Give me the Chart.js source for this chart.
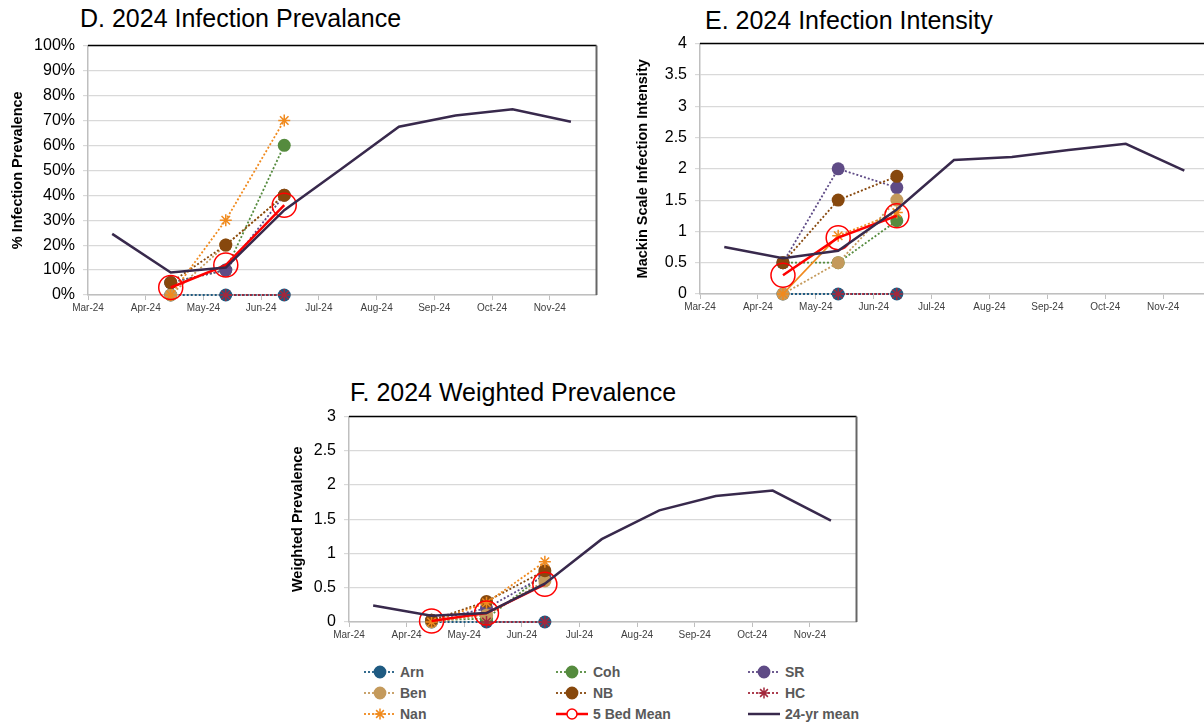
<!DOCTYPE html>
<html>
<head>
<meta charset="utf-8">
<script src="https://cdn.jsdelivr.net/npm/chart.js@4.4.1/dist/chart.umd.min.js"></script>
<style>
  body { margin: 0; width: 1204px; height: 723px; overflow: hidden; background: #fff; position: relative;
         font-family: "Liberation Sans", Arial, sans-serif; }
  canvas { position: absolute; }
  .title { position: absolute; font-size: 25px; color: #000; white-space: nowrap; line-height: 30px; }
  .lg-text { position: absolute; font-weight: bold; font-size: 14px; color: #595959; line-height: 16px; white-space: nowrap; }
</style>
</head>
<body>
<div class="title" style="left:80px;top:3px">D. 2024 Infection Prevalance</div>
<div class="title" style="left:705px;top:5px">E. 2024 Infection Intensity</div>
<div class="title" style="left:350px;top:377px">F. 2024 Weighted Prevalence</div>
<canvas id="chartD" width="610" height="294" style="left:0px;top:28px"></canvas>
<canvas id="chartE" width="620" height="295" style="left:620px;top:26px"></canvas>
<canvas id="chartF" width="590" height="250" style="left:280px;top:399px"></canvas>
<div id="legend"></div>

<script>
// month axis, Mar-24 = 0
const monthLabels = ['Mar-24', 'Apr-24', 'May-24', 'Jun-24', 'Jul-24', 'Aug-24', 'Sep-24', 'Oct-24', 'Nov-24'];
const sampleDates = ['2024-04-14', '2024-05-13', '2024-06-13'];
const meanDates = ['2024-03-14', '2024-04-14', '2024-05-13', '2024-06-13', '2024-07-13',
                   '2024-08-13', '2024-09-12', '2024-10-12', '2024-11-12'];
const bedNames = ['Arn', 'Coh', 'SR', 'Ben', 'NB', 'HC', 'Nan'];

// D. infection prevalence (%)
const prevArn = [0, 0, 0];
const prevCoh = [5, 10, 60];
const prevSR = [5, 10, 40];
const prevBen = [0, 20, 40];
const prevNB = [5, 20, 40];
const prevHC = [null, 0, 0];
const prevNan = [0, 30, 70];
const prevBedMean = [3, 12, 36];
const prevLongMean = [24.5, 9, 11, 34, 50.5, 67.5, 72, 74.5, 69.5];
const prevTicks = [0, 10, 20, 30, 40, 50, 60, 70, 80, 90, 100];

// E. infection intensity (Mackin scale)
const intArn = [0, 0, 0];
const intCoh = [0.5, 0.5, 1.17];
const intSR = [0.5, 2, 1.7];
const intBen = [0, 0.5, 1.5];
const intNB = [0.5, 1.5, 1.88];
const intHC = [null, 0, 0];
const intNan = [0, 0.93, 1.3];
const intBedMean = [0.3, 0.9, 1.25];
const intLongMean = [0.75, 0.57, 0.69, 1.35, 2.14, 2.19, 2.3, 2.4, 1.97];
const intTicks = [0, 0.5, 1, 1.5, 2, 2.5, 3, 3.5, 4];

// F. weighted prevalence
const wpArn = [0, 0, 0];
const wpCoh = [0.025, 0.05, 0.7];
const wpSR = [0.025, 0.2, 0.68];
const wpBen = [0, 0.1, 0.6];
const wpNB = [0.025, 0.3, 0.75];
const wpHC = [null, 0, 0];
const wpNan = [0, 0.28, 0.88];
const wpBedMean = [0.015, 0.13, 0.55];
const wpLongMean = [0.24, 0.09, 0.13, 0.56, 1.21, 1.63, 1.84, 1.92, 1.48];
const wpTicks = [0, 0.5, 1, 1.5, 2, 2.5, 3];

// styles
const bedColors = ['#1F5B82', '#558B3E', '#5F4B86', '#C49A5C', '#87480D', '#A3283C', '#F08A1E'];
const bedPoints = ['circle', 'circle', 'circle', 'circle', 'circle', 'star', 'star'];
const bedMeanColor = '#FF0000';
const longMeanColor = '#38294C';

Chart.defaults.font.family = '"Liberation Sans", Arial, sans-serif';

function monthPos(d) {
  const [y, m, day] = d.split('-').map(Number);
  const dim = new Date(y, m, 0).getDate();
  return (y - 2024) * 12 + (m - 3) + (day - 1) / dim;
}

function pts(dates, vals) {
  return dates.map((d, i) => ({ x: monthPos(d), y: vals[i] }));
}

const plotBorder = {
  id: 'plotBorder',
  afterDatasetsDraw(chart) {
    const { ctx, chartArea: a } = chart;
    ctx.save();
    ctx.strokeStyle = '#000';
    ctx.lineWidth = 1.5;
    ctx.beginPath();
    ctx.moveTo(a.left, a.top);
    ctx.lineTo(a.right, a.top);
    ctx.stroke();
    ctx.strokeStyle = '#666';
    ctx.lineWidth = 2;
    ctx.beginPath();
    ctx.moveTo(a.right, a.top);
    ctx.lineTo(a.right, a.bottom);
    ctx.stroke();
    ctx.restore();
  }
};

function makeChart(id, o) {
  const datasets = [];
  datasets.push({
    label: '24-yr mean', data: pts(meanDates, o.longMean), order: 0,
    borderColor: longMeanColor, borderWidth: 2.5, pointRadius: 0, tension: 0
  });
  datasets.push({
    label: '5 Bed Mean', data: pts(sampleDates, o.bedMean), order: 1,
    borderColor: bedMeanColor, borderWidth: 2.5, pointStyle: 'circle', pointRadius: 12,
    pointBorderWidth: 1.5, pointBackgroundColor: 'rgba(0,0,0,0)', pointBorderColor: bedMeanColor
  });
  o.beds.forEach((vals, i) => {
    const ds = {
      label: bedNames[i], data: pts(sampleDates, vals), order: 10 - i,
      borderColor: bedColors[i], borderWidth: 1.8, borderDash: [2, 2],
      pointStyle: bedPoints[i], pointRadius: bedPoints[i] === 'star' ? 6 : 6.5,
      pointBackgroundColor: bedColors[i], pointBorderColor: bedColors[i],
      pointBorderWidth: bedPoints[i] === 'star' ? 1.5 : 0
    };
    if (o.solidFirst && o.solidFirst === bedNames[i]) {
      ds.segment = { borderDash: c => c.p0DataIndex === 0 ? [] : [2, 2] };
    }
    datasets.push(ds);
  });
  datasets.forEach(d => { d.clip = false; d.fill = false; });

  return new Chart(document.getElementById(id), {
    type: 'line',
    data: { datasets },
    plugins: [plotBorder],
    options: {
      responsive: false,
      animation: false,
      layout: { padding: { top: 14, right: o.padRight, left: 0, bottom: 0 } },
      plugins: { legend: { display: false }, tooltip: { enabled: false } },
      scales: {
        x: {
          type: 'linear', min: 0, max: 8.81,
          afterBuildTicks: s => { s.ticks = monthLabels.map((_, i) => ({ value: i })); },
          afterFit: s => { s.height = 27; },
          grid: { drawOnChartArea: false, drawTicks: true, tickLength: 5, color: '#BFBFBF' },
          border: { color: '#BFBFBF', width: 1.5 },
          ticks: { font: { size: 10 }, color: '#404040', maxRotation: 0, autoSkip: false, padding: 2,
                   callback: v => monthLabels[v] }
        },
        y: {
          type: 'linear', min: 0, max: o.ticks[o.ticks.length - 1],
          afterBuildTicks: s => { s.ticks = o.ticks.map(v => ({ value: v })); },
          afterFit: s => { s.width = o.axisWidth; },
          grid: { color: '#D9D9D9', lineWidth: 1.2, tickLength: 5 },
          border: { color: '#BFBFBF', width: 1.5 },
          ticks: { font: { size: 16 }, color: '#000', padding: 8, callback: o.fmt },
          title: { display: true, text: o.yTitle, color: '#000',
                   font: { size: 14.5, weight: 'bold' }, padding: { top: o.titlePad, bottom: 0 } }
        }
      }
    }
  });
}

makeChart('chartD', {
  beds: [prevArn, prevCoh, prevSR, prevBen, prevNB, prevHC, prevNan],
  bedMean: prevBedMean, longMean: prevLongMean, ticks: prevTicks,
  fmt: v => v + '%', yTitle: '% Infection Prevalence', axisWidth: 88, padRight: 13, titlePad: 9
});
makeChart('chartE', {
  beds: [intArn, intCoh, intSR, intBen, intNB, intHC, intNan],
  bedMean: intBedMean, longMean: intLongMean, ticks: intTicks,
  fmt: v => String(v), yTitle: 'Mackin Scale Infection Intensity', axisWidth: 80, padRight: 30,
  solidFirst: 'Nan', titlePad: 14
});
makeChart('chartF', {
  beds: [wpArn, wpCoh, wpSR, wpBen, wpNB, wpHC, wpNan],
  bedMean: wpBedMean, longMean: wpLongMean, ticks: wpTicks,
  fmt: v => String(v), yTitle: 'Weighted Prevalence', axisWidth: 69, padRight: 13, titlePad: 9
});

// legend (3 columns, row-major like the original)
const legendItems = bedNames.map((n, i) => ({ name: n, color: bedColors[i], style: bedPoints[i], dash: true }))
  .concat([{ name: '5 Bed Mean', color: bedMeanColor, style: 'circle', dash: false, open: true },
           { name: '24-yr mean', color: longMeanColor, style: false, dash: false }]);
const colSym = [364, 556, 748];
const colText = [400, 593, 785];
const rowY = [672, 693, 714];
const legend = document.getElementById('legend');
legendItems.forEach((it, k) => {
  const c = k % 3, r = Math.floor(k / 3);
  const cv = document.createElement('canvas');
  cv.width = 32; cv.height = 16;
  cv.style.left = colSym[c] + 'px';
  cv.style.top = (rowY[r] - 8) + 'px';
  legend.appendChild(cv);
  const ctx = cv.getContext('2d');
  ctx.strokeStyle = it.color;
  ctx.lineWidth = it.dash ? 1.8 : 2.5;
  ctx.setLineDash(it.dash ? [2, 2] : []);
  ctx.beginPath(); ctx.moveTo(0, 8); ctx.lineTo(32, 8); ctx.stroke();
  ctx.setLineDash([]);
  if (it.style) {
    ctx.fillStyle = it.open ? '#fff' : it.color;
    ctx.strokeStyle = it.color;
    ctx.lineWidth = it.style === 'star' || it.open ? 1.5 : 0;
    Chart.helpers.drawPoint(ctx, { pointStyle: it.style, radius: it.open ? 5 : 5.5,
      borderWidth: ctx.lineWidth, rotation: 0 }, 16, 8);
  }
  const t = document.createElement('div');
  t.className = 'lg-text';
  t.textContent = it.name;
  t.style.left = colText[c] + 'px';
  t.style.top = (rowY[r] - 8) + 'px';
  legend.appendChild(t);
});
</script>
</body>
</html>
